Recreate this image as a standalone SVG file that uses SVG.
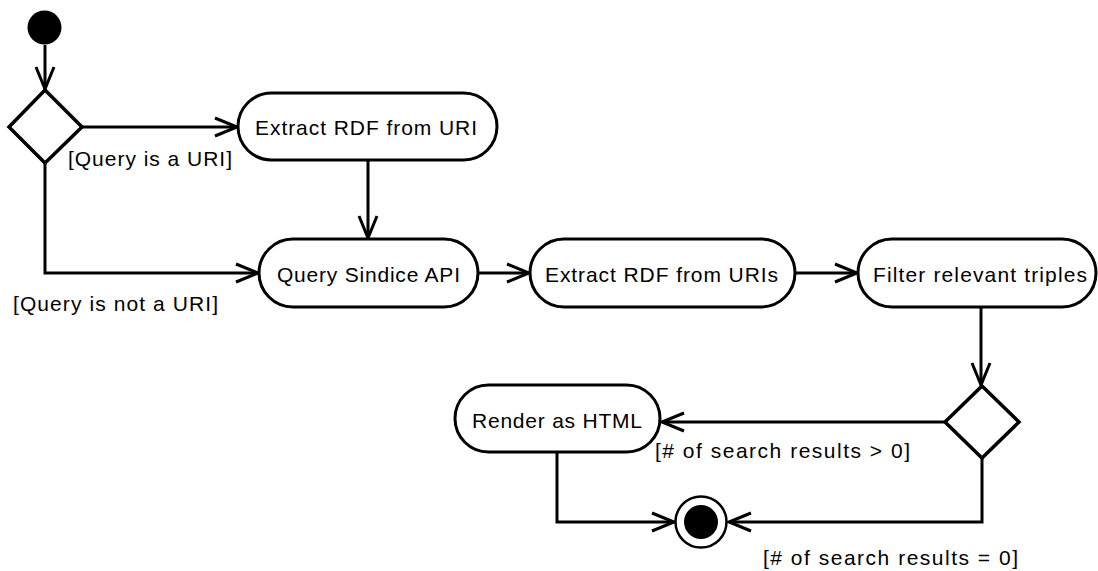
<svg xmlns="http://www.w3.org/2000/svg" width="1098" height="571" viewBox="0 0 1098 571">
<style>
.node{fill:#fff;stroke:#000;stroke-width:3}
.dec{fill:#fff;stroke:#000;stroke-width:3.5}
.lbl{font-family:"Liberation Sans",Arial,sans-serif;font-size:21px;fill:#000}
.edge{fill:none;stroke:#000;stroke-width:3}
</style>
<defs>
<marker id="arr" viewBox="-26 -13 30 26" refX="0" refY="0" markerWidth="30" markerHeight="26" markerUnits="userSpaceOnUse" orient="auto">
<path d="M -22 -9 L 0 0 L -22 9" fill="none" stroke="#000" stroke-width="3"/>
</marker>
</defs>
<rect width="1098" height="571" fill="#fff"/>
<g id="connectors">
<path class="edge" d="M 45 45 L 45 89" marker-end="url(#arr)"/>
<path class="edge" d="M 82 127 L 237 127" marker-end="url(#arr)"/>
<path class="edge" d="M 45 163 L 45 273 L 258 273" marker-end="url(#arr)"/>
<path class="edge" d="M 368 160 L 368 238" marker-end="url(#arr)"/>
<path class="edge" d="M 478 273 L 529 273" marker-end="url(#arr)"/>
<path class="edge" d="M 795 273 L 857 273" marker-end="url(#arr)"/>
<path class="edge" d="M 981 307 L 981 385" marker-end="url(#arr)"/>
<path class="edge" d="M 945 422 L 662 422" marker-end="url(#arr)"/>
<path class="edge" d="M 557 452 L 557 522 L 674 522" marker-end="url(#arr)"/>
<path class="edge" d="M 982 458 L 982 522 L 729 522" marker-end="url(#arr)"/>
</g>
<g id="initial">
<circle cx="44.5" cy="27.5" r="17" fill="#000"/>
</g>
<g id="decision1">
<polygon class="dec" points="45,90 82,127 45,163 9,127"/>
</g>
<g id="extractUri">
<rect class="node" x="238" y="93" width="259" height="67" rx="33.5"/>
<text class="lbl" x="255" y="135" textLength="222" lengthAdjust="spacing">Extract RDF from URI</text>
</g>
<g id="queryIsUri">
<text class="lbl" x="68" y="166" textLength="164" lengthAdjust="spacing">[Query is a URI]</text>
</g>
<g id="queryNotUri">
<text class="lbl" x="13" y="311" textLength="205" lengthAdjust="spacing">[Query is not a URI]</text>
</g>
<g id="querySindice">
<rect class="node" x="259" y="239" width="219" height="68" rx="34"/>
<text class="lbl" x="277" y="282" textLength="183" lengthAdjust="spacing">Query Sindice API</text>
</g>
<g id="extractUris">
<rect class="node" x="530" y="239" width="265" height="68" rx="34"/>
<text class="lbl" x="545" y="282" textLength="233" lengthAdjust="spacing">Extract RDF from URIs</text>
</g>
<g id="filter">
<rect class="node" x="858" y="239" width="238" height="68" rx="34"/>
<text class="lbl" x="873" y="282" textLength="214" lengthAdjust="spacing">Filter relevant triples</text>
</g>
<g id="decision2">
<polygon class="dec" points="982,386 1019,422 982,458 945,422"/>
</g>
<g id="render">
<rect class="node" x="455" y="385" width="205" height="67" rx="33.5"/>
<text class="lbl" x="472" y="428" textLength="170" lengthAdjust="spacing">Render as HTML</text>
</g>
<g id="guardGt">
<text class="lbl" x="655" y="458" textLength="255" lengthAdjust="spacing">[# of search results &gt; 0]</text>
</g>
<g id="guardEq">
<text class="lbl" x="763" y="565" textLength="255" lengthAdjust="spacing">[# of search results = 0]</text>
</g>
<g id="final">
<circle cx="701" cy="522" r="25.5" fill="#fff" stroke="#000" stroke-width="2.5"/>
<circle cx="701" cy="522" r="17" fill="#000"/>
</g>
</svg>
